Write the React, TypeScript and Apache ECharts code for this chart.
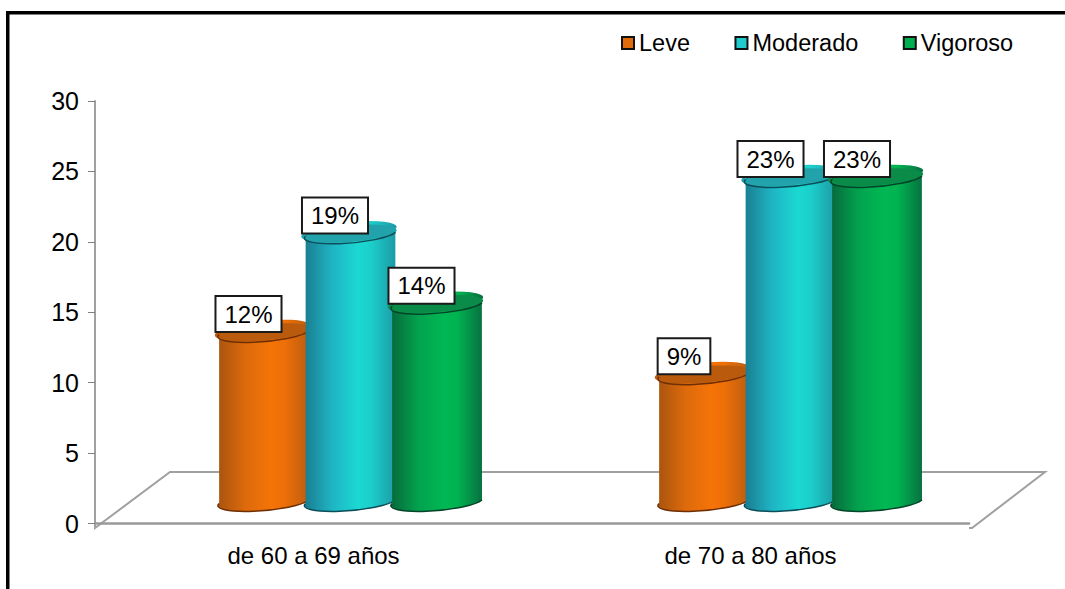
import React, { useEffect, useRef } from "react";
import * as echarts from "echarts";

const categories = ["de 60 a 69 años", "de 70 a 80 años"];
const seriesNames = ["Leve", "Moderado", "Vigoroso"];
const leve = [12, 9];
const moderado = [19, 23];
const vigoroso = [14, 23];
const yTicks = { min: 0, max: 30, interval: 5 };

const FONT = "'Liberation Sans', Arial, sans-serif";

// Cylinder palettes: side gradient stops, cap fill, dark outline, legend swatch
const palettes = [
  {
    swatch: "#E36C0A",
    cap: "#B95A0C",
    edge: "#6E2F05",
    stops: ["#A8540E", "#DD6A0C", "#F57408", "#EE6F08", "#B85C10"],
  },
  {
    swatch: "#1FCBCB",
    cap: "#22A3AB",
    edge: "#0B4F5A",
    stops: ["#1A7C90", "#1FB4C4", "#1BD8D2", "#1CCFCB", "#1C98A4"],
  },
  {
    swatch: "#00B050",
    cap: "#0A8C48",
    edge: "#04452A",
    stops: ["#07693B", "#03A24E", "#00B853", "#00B350", "#076F40"],
  },
];

// Layout of the pseudo 3D scene
const GRID = { left: 95, right: 969, top: 101, bottom: 523.5 };
const AXIS_DROP = 4.5;
const FLOOR_BACK_Y = 472;
const DEPTH_X = [37, 40];
const LABEL_SHIFT = [-15.5, -20];
const BASE_LIFT = 23.5;
const BAR_PITCH = 86.5;
const RADIUS_X = 45;
const RADIUS_Y = 8.5;
const TILT_DEG = -4.5;

function makeRenderItem(seriesIndex: number) {
  const palette = palettes[seriesIndex];
  const tilt = (TILT_DEG * Math.PI) / 180;
  const ex = RADIUS_X * Math.cos(tilt);
  const ey = RADIUS_X * Math.sin(tilt);
  const arc = (sweep: number, x: number, y: number) =>
    `A ${RADIUS_X} ${RADIUS_Y} ${TILT_DEG} 0 ${sweep} ${x} ${y}`;

  return (_params: any, api: any) => {
    const cat = api.value(0);
    const val = api.value(1);
    const base = api.coord([cat, 0]);
    const top = api.coord([cat, val]);
    const cx = base[0] + DEPTH_X[cat] + (seriesIndex - 1) * BAR_PITCH;
    const by = base[1] - BASE_LIFT;
    const ty = top[1] - BASE_LIFT;

    const tl = [cx - ex, ty - ey];
    const tr = [cx + ex, ty + ey];
    const bl = [cx - ex, by - ey];
    const br = [cx + ex, by + ey];

    const side =
      `M ${tl[0]} ${tl[1]} L ${bl[0]} ${bl[1]} ` +
      arc(0, br[0], br[1]) +
      ` L ${tr[0]} ${tr[1]} ` +
      arc(0, tl[0], tl[1]) +
      " Z";
    const cap =
      `M ${tl[0]} ${tl[1]} ` + arc(1, tr[0], tr[1]) + " " + arc(1, tl[0], tl[1]) + " Z";
    const capRim = `M ${tl[0]} ${tl[1]} ` + arc(0, tr[0], tr[1]);
    const baseRim = `M ${bl[0]} ${bl[1]} ` + arc(0, br[0], br[1]);

    const offsets = [0, 0.3, 0.58, 0.72, 1];

    return {
      type: "group",
      children: [
        {
          type: "path",
          shape: { pathData: side },
          style: {
            fill: {
              type: "linear",
              x: 0,
              y: 0,
              x2: 1,
              y2: 0,
              colorStops: palette.stops.map((color, i) => ({ offset: offsets[i], color })),
            },
          },
        },
        { type: "path", shape: { pathData: cap }, style: { fill: palette.cap } },
        {
          type: "path",
          shape: { pathData: capRim },
          style: { fill: "none", stroke: palette.edge, lineWidth: 1.5 },
        },
        {
          type: "path",
          shape: { pathData: baseRim },
          style: { fill: "none", stroke: palette.edge, lineWidth: 1.5 },
        },
        {
          type: "text",
          style: {
            text: `${val}%`,
            x: cx + LABEL_SHIFT[cat],
            y: ty - 17,
            align: "center",
            verticalAlign: "middle",
            fill: "#000",
            font: `24px ${FONT}`,
            backgroundColor: "#fff",
            borderColor: "#1a1a1a",
            borderWidth: 2,
            padding: [5, 8, 5, 8],
          },
        },
      ],
    };
  };
}

export default function App() {
  const ref = useRef<HTMLDivElement>(null);

  useEffect(() => {
    if (!ref.current) return;
    const chart = echarts.init(ref.current, undefined, { renderer: "svg" });
    const values = [leve, moderado, vigoroso];
    const axisY = GRID.bottom + AXIS_DROP;
    const grey = "#a0a0a0";

    chart.setOption({
      animation: false,
      backgroundColor: "#fff",
      textStyle: { fontFamily: FONT },
      grid: {
        left: GRID.left,
        top: GRID.top,
        width: GRID.right - GRID.left,
        height: GRID.bottom - GRID.top,
        containLabel: false,
      },
      legend: {
        left: 621,
        top: 31,
        padding: 0,
        itemGap: 44.5,
        itemWidth: 12,
        itemHeight: 12,
        icon: "rect",
        selectedMode: false,
        textStyle: { fontSize: 23.5, color: "#000", fontFamily: FONT, padding: [0, 0, 0, 0] },
        data: seriesNames.map((name, i) => ({
          name,
          icon: "rect",
          itemStyle: { color: palettes[i].swatch, borderColor: "#111", borderWidth: 2 },
        })),
      },
      xAxis: {
        type: "category",
        data: categories,
        offset: AXIS_DROP,
        axisLine: { lineStyle: { color: "#999999", width: 2.5 } },
        axisTick: { length: 4, lineStyle: { color: "#808080", width: 1 } },
        axisLabel: { fontSize: 24, color: "#000", margin: 15, fontFamily: FONT },
      },
      yAxis: {
        type: "value",
        min: yTicks.min,
        max: yTicks.max,
        interval: yTicks.interval,
        splitLine: { show: false },
        axisLine: { show: true, lineStyle: { color: grey, width: 2 } },
        axisTick: { show: true, length: 7, lineStyle: { color: "#808080", width: 1 } },
        axisLabel: { fontSize: 25, color: "#000", margin: 16, fontFamily: FONT },
      },
      graphic: [
        // Outer frame: only the top and left edges fall inside the page
        { type: "rect", z: 5, shape: { x: 6, y: 11, width: 1059, height: 3.5 }, style: { fill: "#000" } },
        { type: "rect", z: 5, shape: { x: 6, y: 11, width: 3.5, height: 578 }, style: { fill: "#000" } },
        // Floor of the 3D box, behind the cylinders
        {
          type: "polyline",
          z: 0,
          shape: {
            points: [
              [GRID.left, GRID.bottom],
              [GRID.left, axisY],
              [170, FLOOR_BACK_Y],
              [1045, FLOOR_BACK_Y],
              [972, axisY],
              [GRID.right, axisY],
            ],
          },
          style: { stroke: grey, lineWidth: 2, fill: "none" },
        },
      ],
      series: seriesNames.map((name, i) => ({
        type: "custom",
        name,
        coordinateSystem: "cartesian2d",
        clip: false,
        z: 3 + i,
        encode: { x: 0, y: 1 },
        itemStyle: { color: palettes[i].swatch },
        data: values[i].map((v, c) => [c, v]),
        renderItem: makeRenderItem(i),
      })),
    });

    return () => chart.dispose();
  }, []);

  return (
    <div
      ref={ref}
      style={{ position: "fixed", left: 0, top: 0, width: 1065, height: 589 }}
    />
  );
}
